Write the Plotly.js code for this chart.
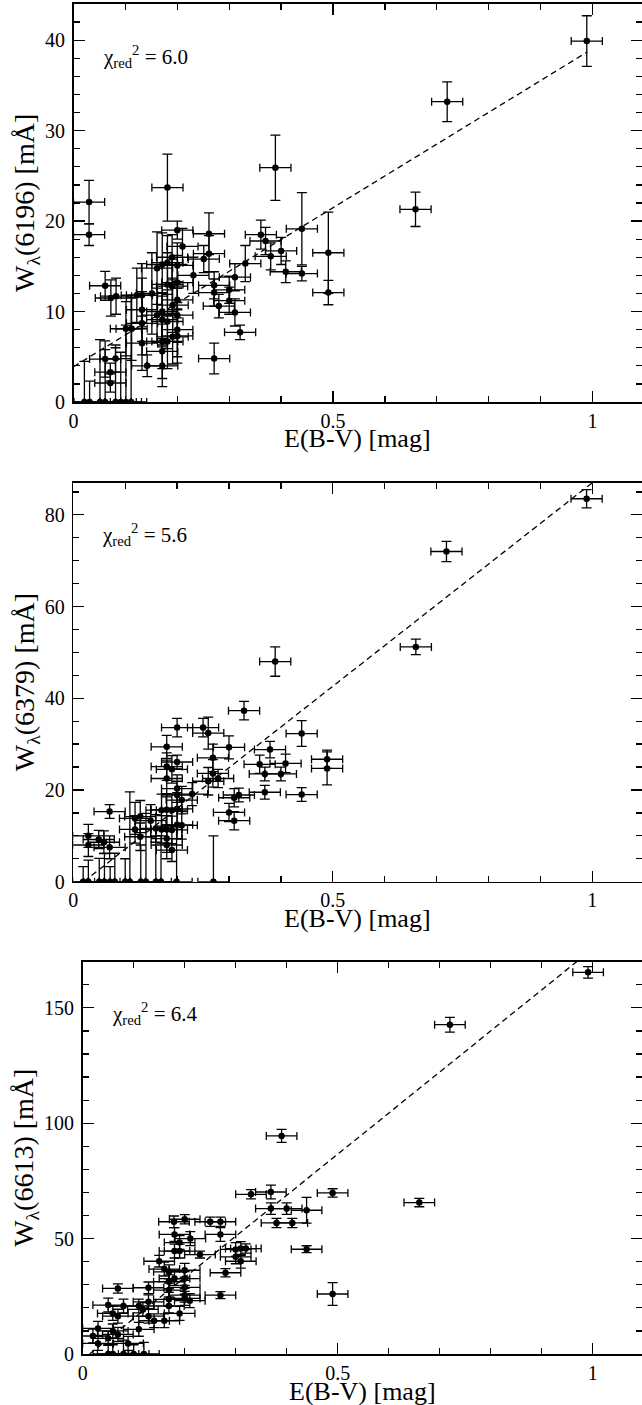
<!DOCTYPE html>
<html>
<head>
<meta charset="utf-8">
<script src="https://cdn.plot.ly/plotly-3.0.1.min.js"></script>
<style>
html,body{margin:0;padding:0;background:#fff;overflow:hidden;}
#chart{width:642px;height:1405px;}
</style>
</head>
<body>
<div id="chart"></div>
<script>
// ---------- Panel 1: W(6196) ----------
var p1_x = [0.989,0.72,0.659,0.491,0.491,0.44,0.44,0.389,0.361,0.37,0.38,0.40,0.409,0.331,0.311,0.30,0.30,0.311,0.321,0.28,
            0.271,0.271,0.261,0.261,0.251,0.271,0.231,0.21,0.2,0.181,0.19,0.181,0.171,0.161,0.2,0.2,0.19,0.181,0.151,0.132,
            0.122,0.082,0.072,0.061,0.03,0.03,0.132,0.132,0.112,0.101,0.132,0.142,0.171,0.171,0.171,0.181,0.171,0.171,0.181,0.191,
            0.2,0.2,0.191,0.2,0.161,0.061,0.081,0.071,0.071,0.2,
            0.021,0.031,0.051,0.061,0.081,0.091,0.101,0.111];
var p1_y = [39.9,33.2,21.3,16.5,12.1,19.15,14.2,25.9,18.5,17.8,16.1,16.7,14.4,15.3,13.8,12.4,11.2,9.9,7.7,10.6,
            12.9,12.1,18.6,16.4,15.8,4.8,14.0,17.2,19.0,23.7,16.0,15.4,15.2,14.8,15.1,13.2,12.8,13.0,12.0,11.8,
            11.8,11.7,11.5,12.85,22.1,18.5,10.2,8.7,8.1,8.1,6.5,4.0,4.0,5.6,6.7,6.7,10.0,9.1,8.9,10.7,
            9.6,8.0,7.2,7.3,9.6,4.75,4.8,3.3,2.1,11.3,
            0,0,0,0,0,0,0,0];
var p1_ey = [2.8,2.2,1.9,4.5,1.35,4.0,0.8,3.6,1.6,1.5,1.5,1.5,1.2,2.0,1.5,1.5,1.5,1.5,0.8,1.3,
             1.5,1.5,2.3,2.0,1.5,1.7,2.0,2.0,1.0,3.7,2.5,3.0,3.5,4.0,2.5,3.0,3.0,3.5,4.5,3.5,
             3.0,2.0,2.0,1.6,2.4,1.2,3.5,3.5,3.5,3.0,3.0,1.2,2.3,3.0,3.0,3.0,3.0,3.0,3.0,3.0,
             3.0,3.0,3.0,3.0,3.0,2.0,1.5,1.0,1.0,2.0,
             4.5,2.3,6.9,5.8,6.0,5.5,8.5,11.5];
var p1_fitX = [0, 0.99];
var p1_fitY = [3.9, 38.7];
var p1_chi = "6.0";

// ---------- Panel 2: W(6379) ----------
var p2_x = [0.989,0.719,0.66,0.389,0.329,0.44,0.2,0.25,0.26,0.30,0.379,0.18,0.269,0.2,0.18,0.19,0.359,0.409,0.369,0.40,
            0.489,0.489,0.269,0.279,0.26,0.18,0.2,0.369,0.44,0.229,0.2,0.319,0.31,0.209,0.30,0.31,0.07,0.17,0.18,0.19,
            0.2,0.129,0.119,0.149,0.119,0.129,0.159,0.17,0.18,0.19,0.2,0.209,0.18,0.18,0.19,0.029,0.029,0.049,0.059,0.07,
            0.019,0.029,0.05,0.06,0.071,0.08,0.1,0.109,0.13,0.14,0.159,0.169,0.199,0.27];
var p2_y = [83.5,72.0,51.2,48.0,37.3,32.3,33.6,33.6,32.4,29.3,28.8,29.4,27.0,26.1,25.1,24.5,25.6,25.8,23.5,23.5,
            26.7,24.7,23.6,22.5,21.9,22.5,20.3,19.5,19.0,19.1,18.9,18.9,18.3,17.8,15.1,13.3,15.3,15.6,15.7,15.6,
            15.9,14.2,13.8,13.3,11.4,9.8,11.6,11.4,11.4,11.3,12.4,12.3,9.4,8.0,6.9,10.0,8.0,9.2,8.6,7.5,
            0,0,0,0,0,0,0,0,0,0,0,0,0,0];
var p2_ey = [2.0,2.2,1.7,3.2,2.0,2.8,2.0,2.0,3.5,2.5,1.8,2.5,3.0,1.5,3.0,3.0,2.0,2.0,1.5,1.5,
             2.0,3.6,3.0,2.0,3.0,4.0,3.0,1.5,1.5,2.5,3.0,1.5,2.0,3.0,2.0,2.0,1.5,3.5,3.5,3.5,
             3.5,3.5,3.5,3.5,3.0,3.0,3.0,3.0,3.0,3.0,3.0,3.0,3.0,3.0,2.5,2.5,2.5,2.0,2.5,2.5,
             3.3,4.7,5.1,6.2,3.3,6.2,5.0,19.6,8.0,14.9,10.0,10.0,12.0,10.0];
var p2_fitX = [0.02, 1.0];
var p2_fitY = [0, 87];
var p2_chi = "5.6";

// ---------- Panel 3: W(6613) ----------
var p3_x = [0.991,0.72,0.66,0.49,0.49,0.439,0.439,0.39,0.33,0.369,0.369,0.40,0.38,0.411,0.179,0.2,0.25,0.27,0.18,0.27,
            0.211,0.19,0.18,0.19,0.23,0.30,0.31,0.32,0.30,0.31,0.28,0.27,0.15,0.16,0.169,0.2,0.169,0.18,0.2,0.2,
            0.169,0.129,0.069,0.2,0.2,0.169,0.129,0.11,0.118,0.05,0.08,0.059,0.069,0.129,0.14,0.16,0.19,0.169,0.21,0.11,
            0.03,0.02,0.03,0.059,0.05,0.069,0.089,
            0.05,0.059,0.08,0.10,0.12];
var p3_y = [165.4,142.7,65.6,69.8,26.0,62.3,45.4,94.5,69.2,70.2,63.0,63.0,56.8,56.8,57.3,58.4,57.3,57.3,51.8,51.8,
            50.0,48.3,44.6,44.6,43.1,45.3,45.7,45.7,42.1,40.2,35.2,25.5,40.2,36.8,35.6,36.3,31.3,32.7,32.7,28.9,
            27.7,28.7,28.4,25.5,24.1,23.7,22.6,20.8,19.3,21.2,20.8,17.6,16.4,16.4,14.4,14.4,17.6,20.8,23.1,10.7,
            11.1,7.8,4.6,10.0,6.8,8.5,4.6,
            0,0,0,0,0];
var p3_ey = [2.5,3.2,1.8,1.8,4.9,5.6,1.5,2.8,2.0,3.0,2.5,2.5,2.0,2.0,2.5,2.0,2.0,2.0,3.0,3.0,
             3.0,3.0,3.0,3.0,1.5,3.0,3.0,2.0,3.0,3.0,1.8,1.5,2.5,3.0,3.0,3.0,3.0,3.0,3.0,3.0,
             3.0,2.5,2.0,3.0,3.0,3.0,3.0,3.0,3.0,3.0,3.0,3.0,3.0,3.0,3.0,3.0,3.0,3.0,3.0,3.0,
             3.0,3.0,3.0,3.0,3.0,3.0,3.0,
             4.0,4.0,6.0,4.0,5.0];
var p3_fitX = [0.0135, 0.9686];
var p3_fitY = [0, 170];
var p3_chi = "6.4";

var xErr = 0.03;
var yTitles = ["W<sub>λ</sub>(6196) [mÅ]", "W<sub>λ</sub>(6379) [mÅ]", "W<sub>λ</sub>(6613) [mÅ]"];
var xTitle = "E(B-V) [mag]";

// ---------- geometry (pixels) ----------
var W = 642, H = 1405;
var FONT = "'Liberation Serif', 'Times New Roman', serif";
var panels = [
  {x:p1_x, y:p1_y, ey:p1_ey, fx:p1_fitX, fy:p1_fitY, chi:p1_chi, left:73.5, top:4,     bottom:402,  ymax:44,  dtick:10, minor:2},
  {x:p2_x, y:p2_y, ey:p2_ey, fx:p2_fitX, fy:p2_fitY, chi:p2_chi, left:73.3, top:482.7, bottom:881.7,ymax:87,  dtick:20, minor:5},
  {x:p3_x, y:p3_y, ey:p3_ey, fx:p3_fitX, fy:p3_fitY, chi:p3_chi, left:82.7, top:961.7, bottom:1354, ymax:170, dtick:50, minor:10}
];
var xPxPerUnit = [519, 519, 510];

var traces = [];
var layout = {
  width: W, height: H,
  margin: {l:0, r:0, t:0, b:0},
  paper_bgcolor: "#fff", plot_bgcolor: "#fff",
  showlegend: false,
  font: {family: FONT, color: "#000"},
  annotations: []
};

panels.forEach(function(p, i){
  var n = i === 0 ? "" : String(i+1);
  var xa = "x" + n, ya = "y" + n;
  traces.push({
    type: "scatter", mode: "markers", x: p.x, y: p.y, xaxis: xa, yaxis: ya,
    marker: {color: "#000", size: 6.5, symbol: "circle"},
    error_y: {type: "data", array: p.ey, visible: true, color: "#000", thickness: 1.3, width: 5},
    error_x: {type: "constant", value: xErr, visible: true, color: "#000", thickness: 1.3, width: 4},
    cliponaxis: true, hoverinfo: "skip"
  });
  traces.push({
    type: "scatter", mode: "lines", x: p.fx, y: p.fy, xaxis: xa, yaxis: ya,
    line: {color: "#000", width: 1.3, dash: "6px,4px"}, hoverinfo: "skip"
  });
  var xmax = (W - p.left) / xPxPerUnit[i];
  var commonTick = {
    ticks: "inside", ticklen: 11, tickwidth: 1.3, tickcolor: "#000",
    showline: true, linecolor: "#000", linewidth: 1.6, mirror: "ticks",
    showgrid: false, zeroline: false,
    tickfont: {family: FONT, size: 20, color: "#000"}
  };
  layout["xaxis" + n] = Object.assign({}, commonTick, {
    domain: [p.left / W, 1], range: [0, xmax], anchor: ya,
    tick0: 0, dtick: 0.5, ticklabelstandoff: 0,
    minor: {dtick: 0.1, ticks: "inside", ticklen: 6, tickwidth: 1.3, tickcolor: "#000", showgrid: false}
  });
  layout["yaxis" + n] = Object.assign({}, commonTick, {
    domain: [1 - p.bottom / H, 1 - p.top / H], range: [0, p.ymax], anchor: xa,
    tick0: 0, dtick: p.dtick, ticklabelstandoff: 3,
    minor: {dtick: p.minor, ticks: "inside", ticklen: 6, tickwidth: 1.3, tickcolor: "#000", showgrid: false}
  });
  // x title
  layout.annotations.push({
    xref: "paper", yref: "paper", x: ((p.left + W) / 2) / W, y: 1 - (p.bottom + 37) / H,
    xanchor: "center", yanchor: "middle", showarrow: false,
    text: xTitle, font: {family: FONT, size: 26, color: "#000"}
  });
  // y title
  layout.annotations.push({
    xref: "paper", yref: "paper", x: 26 / W, y: 1 - ((p.top + p.bottom) / 2) / H,
    xanchor: "center", yanchor: "middle", showarrow: false, textangle: -90,
    text: yTitles[i], font: {family: FONT, size: 28, color: "#000"}
  });
  // chi^2 label
  layout.annotations.push({
    xref: "paper", yref: "paper", x: (p.left + 27) / W, y: 1 - (p.top + 52) / H,
    xanchor: "left", yanchor: "middle", showarrow: false,
    text: "χ<sub>red</sub><sup>2</sup> = " + p.chi, font: {family: FONT, size: 21, color: "#000"}
  });
});

Plotly.newPlot("chart", traces, layout, {staticPlot: true, displayModeBar: false});
</script>
</body>
</html>
